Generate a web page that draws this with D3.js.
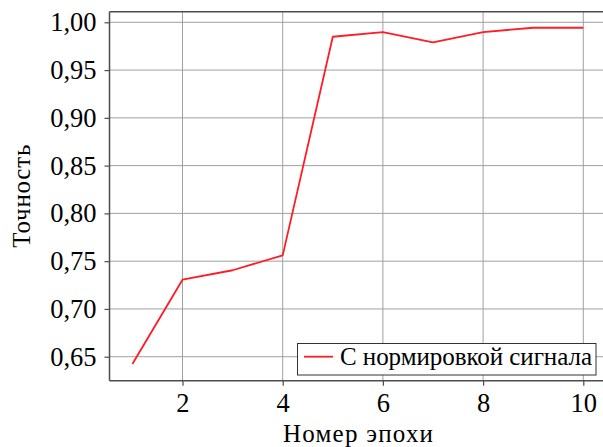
<!DOCTYPE html>
<html>
<head>
<meta charset="utf-8">
<script src="https://cdn.jsdelivr.net/npm/d3@7"></script>
<style>
  html, body { margin: 0; padding: 0; background: #fff; }
  svg { display: block; }
  text { font-family: "Liberation Serif", "DejaVu Serif", serif; fill: #000; }
</style>
</head>
<body>
<svg id="chart" width="603" height="447"></svg>
<script>
// Accuracy per training epoch
const epochs = [1, 2, 3, 4, 5, 6, 7, 8, 9, 10];
const accuracy = [0.6423, 0.7306, 0.7405, 0.7561, 0.9849, 0.9898, 0.9790, 0.9898, 0.9943, 0.9943];
const xTicks = [2, 4, 6, 8, 10];
const yTicks = [0.65, 0.70, 0.75, 0.80, 0.85, 0.90, 0.95, 1.00];
const seriesName = "С нормировкой сигнала";
const xTitle = "Номер эпохи";
const yTitle = "Точность";

const svg = d3.select("#chart");
const plot = { left: 109.5, top: 11.7, bottom: 380.7 };
const x = d3.scaleLinear().domain([0.543, 10.45]).range([plot.left, plot.left + 9.907 * 50.1]);
const y = d3.scaleLinear().domain([0.6249, 1.0111]).range([plot.bottom, plot.top]);
const right = x.range()[1];

const fmt = d => d3.format(".2f")(d).replace(".", ",");

// grid
const grid = svg.append("g");
grid.selectAll("line.gx").data(xTicks).join("line")
  .attr("x1", d => x(d)).attr("x2", d => x(d))
  .attr("y1", plot.top).attr("y2", plot.bottom)
  .attr("stroke", "#a0a0a0").attr("stroke-width", 1);
grid.selectAll("line.gy").data(yTicks).join("line")
  .attr("x1", plot.left).attr("x2", right)
  .attr("y1", d => y(d)).attr("y2", d => y(d))
  .attr("stroke", "#a0a0a0").attr("stroke-width", 1);

// axes
const xAxis = d3.axisBottom(x).tickValues(xTicks).tickSize(5).tickPadding(4).tickFormat(d3.format("d"));
const yAxis = d3.axisLeft(y).tickValues(yTicks).tickSize(5).tickPadding(8).tickFormat(fmt);

const gx = svg.append("g").attr("transform", `translate(0,${plot.bottom})`).call(xAxis);
const gy = svg.append("g").attr("transform", `translate(${plot.left},0)`).call(yAxis);
[gx, gy].forEach(g => {
  g.select(".domain").remove();
  g.selectAll(".tick line").attr("stroke", "#4d4d4d").attr("stroke-width", 1.2);
  g.selectAll(".tick text").attr("font-size", 26.5);
});
gx.selectAll(".tick text").attr("dy", "0.85em");

// frame
const frame = [
  [plot.left, plot.top, right, plot.top],
  [plot.left, plot.bottom, right, plot.bottom],
  [plot.left, plot.top, plot.left, plot.bottom]
];
svg.append("g").selectAll("line").data(frame).join("line")
  .attr("x1", d => d[0]).attr("y1", d => d[1]).attr("x2", d => d[2]).attr("y2", d => d[3])
  .attr("stroke", "#4d4d4d").attr("stroke-width", 1.5);

// series
const line = d3.line().x((d, i) => x(epochs[i])).y(d => y(d));
svg.append("path").datum(accuracy)
  .attr("d", line)
  .attr("fill", "none")
  .attr("stroke", "#ff1c24")
  .attr("stroke-width", 1.8)
  .attr("stroke-linejoin", "round");

// legend
const lg = svg.append("g");
lg.append("rect").attr("x", 297.5).attr("y", 343.5).attr("width", 298.5).attr("height", 31.5)
  .attr("fill", "#fff").attr("stroke", "#333").attr("stroke-width", 1);
lg.append("line").attr("x1", 304).attr("x2", 333).attr("y1", 356.7).attr("y2", 356.7)
  .attr("stroke", "#ff1c24").attr("stroke-width", 1.8);
lg.append("text").attr("x", 340).attr("y", 365).attr("font-size", 25)
  .attr("textLength", 252).attr("lengthAdjust", "spacing").text(seriesName);

// axis titles
svg.append("text").attr("x", 358).attr("y", 442).attr("text-anchor", "middle")
  .attr("font-size", 25).attr("textLength", 150).attr("lengthAdjust", "spacing").text(xTitle);
svg.append("text").attr("transform", `translate(30,${(plot.top + plot.bottom) / 2}) rotate(-90)`)
  .attr("text-anchor", "middle").attr("font-size", 25)
  .attr("textLength", 103).attr("lengthAdjust", "spacing").text(yTitle);
</script>
</body>
</html>
